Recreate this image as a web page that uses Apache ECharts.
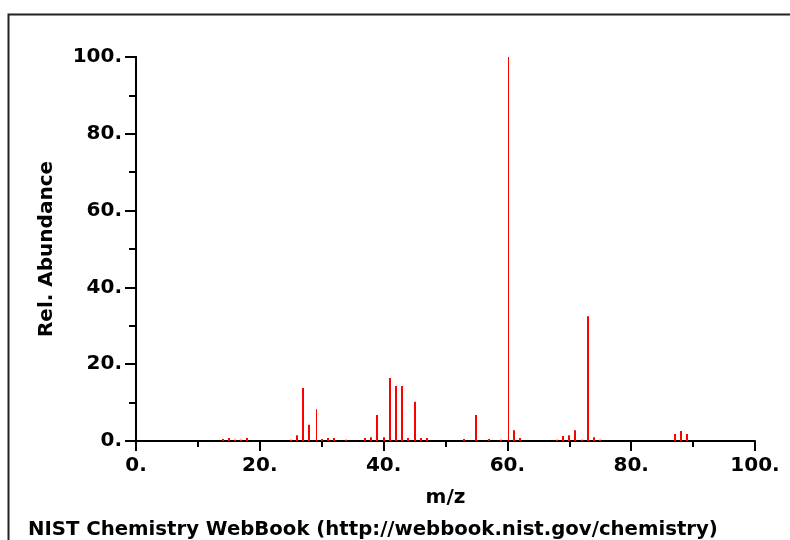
<!DOCTYPE html>
<html>
<head>
<meta charset="utf-8">
<script src="https://cdn.jsdelivr.net/npm/echarts@6/dist/echarts.min.js"></script>
<style>
html,body{margin:0;padding:0;background:#fff;}
#chart{width:790px;height:540px;}
</style>
</head>
<body>
<div id="chart"></div>
<script>
// m/z values and relative abundances
var mz = [14,15,16,17,18,25,26,27,28,29,30,31,32,34,37,38,39,40,41,42,43,44,45,46,47,53,55,57,59,60,61,62,68,69,70,71,72,73,74,75,87,88,89];
var abundance = [0.5,0.8,0.3,0.3,0.8,0.3,1.5,13.8,4.2,8.3,0.5,0.8,0.8,0.3,0.8,1.0,6.8,1.0,16.4,14.3,14.3,0.8,10.2,0.8,0.8,0.5,6.8,0.5,0.3,100,2.8,0.8,0.3,1.3,1.5,2.8,0.3,32.5,1.0,0.3,1.8,2.6,1.8];
var thinPeaks = [29, 60];
var xTicks = [0, 20, 40, 60, 80, 100];
var yTicks = [0, 20, 40, 60, 80, 100];
var xTitle = 'm/z';
var yTitle = 'Rel. Abundance';
var footer = 'NIST Chemistry WebBook (http://webbook.nist.gov/chemistry)';

var data = mz.map(function (m, i) { return [m, abundance[i], thinPeaks.indexOf(m) >= 0 ? 1 : 2]; });

var FONT = 'DejaVu Sans';
var chart = echarts.init(document.getElementById('chart'), null, {renderer: 'canvas'});
var fmt = function (v) { return v + '.'; };
var txt = {color: '#000', fontFamily: FONT, fontSize: 20, fontWeight: 'bold'};

chart.setOption({
  animation: false,
  backgroundColor: '#fff',
  grid: {left: 136, right: 35, top: 57, bottom: 99},
  xAxis: {
    type: 'value', min: xTicks[0], max: xTicks[xTicks.length - 1], interval: 20,
    axisLine: {show: true, onZero: false, lineStyle: {color: '#000', width: 2}},
    axisTick: {show: true, length: 10, lineStyle: {color: '#000', width: 2}},
    minorTick: {show: true, splitNumber: 2, length: 6, lineStyle: {color: '#000', width: 2}},
    splitLine: {show: false},
    axisLabel: Object.assign({margin: 15, formatter: fmt, showMinLabel: true, showMaxLabel: true}, txt),
    name: xTitle, nameLocation: 'middle', nameGap: 47,
    nameTextStyle: txt
  },
  yAxis: [{
    type: 'value', min: yTicks[0], max: yTicks[yTicks.length - 1], interval: 20,
    axisLine: {show: true, onZero: false, lineStyle: {color: '#000', width: 2}},
    axisTick: {show: true, length: 11, lineStyle: {color: '#000', width: 2}},
    minorTick: {show: true, splitNumber: 2, length: 7, lineStyle: {color: '#000', width: 2}},
    splitLine: {show: false},
    axisLabel: Object.assign({margin: 14, formatter: fmt}, txt),
    name: yTitle, nameLocation: 'middle', nameGap: 79,
    nameTextStyle: txt
  }, {
    type: 'value', position: 'right', min: 0, max: 100,
    axisLine: {show: true, lineStyle: {color: '#000', width: 2}},
    axisTick: {show: false}, axisLabel: {show: false}, splitLine: {show: false}
  }],
  graphic: [{
    type: 'rect', left: 6, top: 12, silent: true,
    shape: {x: 0, y: 0, width: 820, height: 600},
    style: {fill: 'none', stroke: '#222', lineWidth: 2}
  }, {
    type: 'text', left: 28, top: 520, silent: true,
    style: {text: footer, fill: '#000', font: 'bold 19.7px "DejaVu Sans"'}
  }],
  series: [{
    type: 'custom',
    coordinateSystem: 'cartesian2d',
    data: data,
    encode: {x: 0, y: 1},
    renderItem: function (params, api) {
      var x = api.value(0), y = api.value(1), w = api.value(2);
      var top = api.coord([x, y]);
      var base = api.coord([x, 0]);
      var left = w === 2 ? Math.round(top[0]) - 1 : Math.ceil(top[0]);
      return {
        type: 'rect',
        shape: {x: left, y: top[1], width: w, height: base[1] - top[1]},
        style: {fill: '#ff0000'}
      };
    }
  }]
});
</script>
</body>
</html>
